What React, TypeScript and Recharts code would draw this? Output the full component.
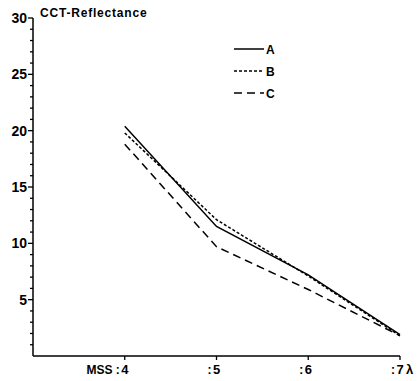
import { LineChart, Line, XAxis, YAxis } from 'recharts';

const bands = [4, 5, 6, 7];
const bandPrefix = ['MSS :', ':', ':', ':'];
const bandSuffix = ['', '', '', 'λ'];
const seriesA = [20.4, 11.5, 7.2, 1.9];
const seriesB = [19.8, 12.1, 7.1, 1.8];
const seriesC = [18.8, 9.7, 5.9, 1.8];
const yTicks = Array.from({ length: 31 }, (_, i) => i);

const data = bands.map((b, i) => ({ band: b, A: seriesA[i], B: seriesB[i], C: seriesC[i] }));

const font = '"Liberation Sans", Arial, sans-serif';

const YTick = (props: any) => {
    const { x, y, payload } = props;
    const v = payload.value;
    const major = v % 5 === 0 && v > 0;
    if (v === 0) return null;
    return (
        <g>
            <line x1={x - (major ? 5 : 3)} y1={y} x2={x} y2={y} stroke="#000" strokeWidth={1.3} />
            {major && (
                <text x={x - 6} y={y} dy={5} textAnchor="end" fontSize={14} fontWeight="bold" fontFamily={font} fill="#000">
                    {v}
                </text>
            )}
        </g>
    );
};

const XTick = (props: any) => {
    const { x, y, payload } = props;
    const i = bands.indexOf(payload.value);
    return (
        <g>
            <line x1={x} y1={y} x2={x} y2={y + 4} stroke="#000" strokeWidth={1.3} />
            <text x={x - 5} y={y + 18} textAnchor="end" fontSize={12} fontWeight="bold" fontFamily={font} fill="#000">
                {bandPrefix[i]}
            </text>
            <text x={x} y={y + 18} textAnchor="middle" fontSize={13} fontWeight="bold" fontFamily={font} fill="#000">
                {payload.value}
            </text>
            {bandSuffix[i] && (
                <text x={x + 6} y={y + 18} textAnchor="start" fontSize={13} fontWeight="bold" fontFamily={font} fill="#000">
                    {bandSuffix[i]}
                </text>
            )}
        </g>
    );
};

const legendItems = [
    { name: 'A', dash: undefined },
    { name: 'B', dash: '3 2' },
    { name: 'C', dash: '8 5' },
];

export default function App() {
    return (
        <div style={{ position: 'absolute', left: 0, top: 0, background: '#fff' }}>
            <LineChart width={417} height={381} data={data} margin={{ top: 18, right: 17, bottom: 0, left: 0 }}>
                <text x={40} y={17} fontSize={12} fontWeight="bold" letterSpacing={0.8} fontFamily={font} fill="#000">
                    CCT-Reflectance
                </text>
                {legendItems.map((it, i) => (
                    <g key={it.name}>
                        <line x1={234} y1={49 + i * 22} x2={264} y2={49 + i * 22} stroke="#000" strokeWidth={1.5} strokeDasharray={it.dash} />
                        <text x={266} y={54 + i * 22} fontSize={12} fontWeight="bold" fontFamily={font} fill="#000">
                            {it.name}
                        </text>
                    </g>
                ))}
                <XAxis
                    dataKey="band"
                    type="number"
                    domain={[3, 7]}
                    ticks={bands}
                    axisLine={{ stroke: '#000', strokeWidth: 1.5 }}
                    tickLine={false}
                    tickSize={0}
                    tickMargin={0}
                    tick={<XTick />}
                    height={25}
                />
                <YAxis
                    type="number"
                    domain={[0, 30]}
                    ticks={yTicks}
                    interval={0}
                    width={33}
                    axisLine={{ stroke: '#000', strokeWidth: 1.5 }}
                    tickLine={false}
                    tickSize={0}
                    tickMargin={0}
                    tick={<YTick />}
                />
                <Line dataKey="A" stroke="#000" strokeWidth={1.5} dot={false} isAnimationActive={false} />
                <Line dataKey="B" stroke="#000" strokeWidth={1.5} strokeDasharray="3 2" dot={false} isAnimationActive={false} />
                <Line dataKey="C" stroke="#000" strokeWidth={1.5} strokeDasharray="8 5" dot={false} isAnimationActive={false} />
            </LineChart>
        </div>
    );
}
